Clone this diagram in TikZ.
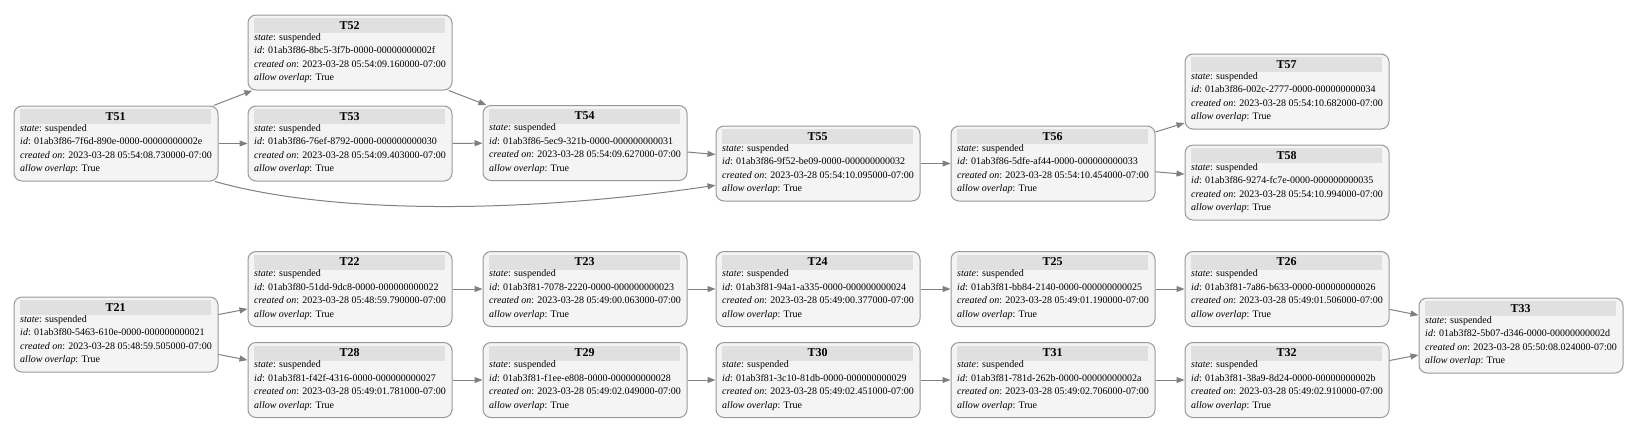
\documentclass[tikz,border=0pt]{standalone}
\usepackage{fontspec}
\setmainfont{Liberation Serif}
\usetikzlibrary{arrows.meta}

\definecolor{boxline}{HTML}{999999}
\definecolor{boxfill}{HTML}{F4F4F4}
\definecolor{headfill}{HTML}{E0E0E0}
\definecolor{linkgray}{HTML}{808080}

% title bar and the four lines of one task
\newcommand\taskbody[3]{%
  {\fboxsep=0pt\colorbox{headfill}{\parbox[b][11.25pt][c]{143.25pt}{\centering\fontsize{9pt}{10pt}\selectfont\bfseries #1}}}\\[-4.7pt]
  \textit{state}: suspended\\
  \textit{id}: #2\\
  \textit{created on}: 2023-03-28 #3-07:00\\
  \textit{allow overlap}: True}

\begin{document}
\begin{tikzpicture}[x=0.75pt, y=-0.75pt,
    task/.style={draw=boxline, fill=boxfill, line width=0.75pt, rounded corners=6pt,
      minimum width=153pt, minimum height=56.25pt, inner sep=0pt, align=left,
      text depth=4.7pt, font=\fontsize{7.5pt}{10.125pt}\selectfont},
    link/.style={draw=linkgray, line width=0.75pt, -{Triangle[length=6pt, width=4.5pt]}}]

    \useasboundingbox (0,0) rectangle (1635,430);

    % upper group
    \node [task] (t51) at (116,143.5) {\taskbody{T51}{01ab3f86-7f6d-890e-0000-00000000002e}{05:54:08.730000}};
    \node [task] (t52) at (350,52.5)  {\taskbody{T52}{01ab3f86-8bc5-3f7b-0000-00000000002f}{05:54:09.160000}};
    \node [task] (t53) at (350,143.5) {\taskbody{T53}{01ab3f86-76ef-8792-0000-000000000030}{05:54:09.403000}};
    \node [task] (t54) at (585,143)   {\taskbody{T54}{01ab3f86-5ec9-321b-0000-000000000031}{05:54:09.627000}};
    \node [task] (t55) at (818,163.5) {\taskbody{T55}{01ab3f86-9f52-be09-0000-000000000032}{05:54:10.095000}};
    \node [task] (t56) at (1053,163.5) {\taskbody{T56}{01ab3f86-5dfe-af44-0000-000000000033}{05:54:10.454000}};
    \node [task] (t57) at (1287,91.5) {\taskbody{T57}{01ab3f86-002c-2777-0000-000000000034}{05:54:10.682000}};
    \node [task] (t58) at (1287,182.5) {\taskbody{T58}{01ab3f86-9274-fc7e-0000-000000000035}{05:54:10.994000}};

    \draw [link] (t51) -- (t52);
    \draw [link] (t51) -- (t53);
    \draw [link] (t52) -- (t54);
    \draw [link] (t53) -- (t54);
    \draw [link] (t54) -- (t55);
    \draw [link] (t51.-21) .. controls (330,214) and (520,214) .. (t55.192);
    \draw [link] (t55) -- (t56);
    \draw [link] (t56) -- (t57);
    \draw [link] (t56) -- (t58);

    % lower group
    \node [task] (t21) at (116,334.5) {\taskbody{T21}{01ab3f80-5463-610e-0000-000000000021}{05:48:59.505000}};
    \node [task] (t22) at (350,289)  {\taskbody{T22}{01ab3f80-51dd-9dc8-0000-000000000022}{05:48:59.790000}};
    \node [task] (t23) at (585,289)  {\taskbody{T23}{01ab3f81-7078-2220-0000-000000000023}{05:49:00.063000}};
    \node [task] (t24) at (818,289)  {\taskbody{T24}{01ab3f81-94a1-a335-0000-000000000024}{05:49:00.377000}};
    \node [task] (t25) at (1053,289) {\taskbody{T25}{01ab3f81-bb84-2140-0000-000000000025}{05:49:01.190000}};
    \node [task] (t26) at (1287,289) {\taskbody{T26}{01ab3f81-7a86-b633-0000-000000000026}{05:49:01.506000}};
    \node [task] (t28) at (350,380)  {\taskbody{T28}{01ab3f81-f42f-4316-0000-000000000027}{05:49:01.781000}};
    \node [task] (t29) at (585,380)  {\taskbody{T29}{01ab3f81-f1ee-e808-0000-000000000028}{05:49:02.049000}};
    \node [task] (t30) at (818,380)  {\taskbody{T30}{01ab3f81-3c10-81db-0000-000000000029}{05:49:02.451000}};
    \node [task] (t31) at (1053,380) {\taskbody{T31}{01ab3f81-781d-262b-0000-00000000002a}{05:49:02.706000}};
    \node [task] (t32) at (1287,380) {\taskbody{T32}{01ab3f81-38a9-8d24-0000-00000000002b}{05:49:02.910000}};
    \node [task] (t33) at (1521,335.5) {\taskbody{T33}{01ab3f82-5b07-d346-0000-00000000002d}{05:50:08.024000}};

    \draw [link] (t21) -- (t22);
    \draw [link] (t21) -- (t28);
    \draw [link] (t22) -- (t23);
    \draw [link] (t23) -- (t24);
    \draw [link] (t24) -- (t25);
    \draw [link] (t25) -- (t26);
    \draw [link] (t26) -- (t33);
    \draw [link] (t28) -- (t29);
    \draw [link] (t29) -- (t30);
    \draw [link] (t30) -- (t31);
    \draw [link] (t31) -- (t32);
    \draw [link] (t32) -- (t33);
\end{tikzpicture}
\end{document}
